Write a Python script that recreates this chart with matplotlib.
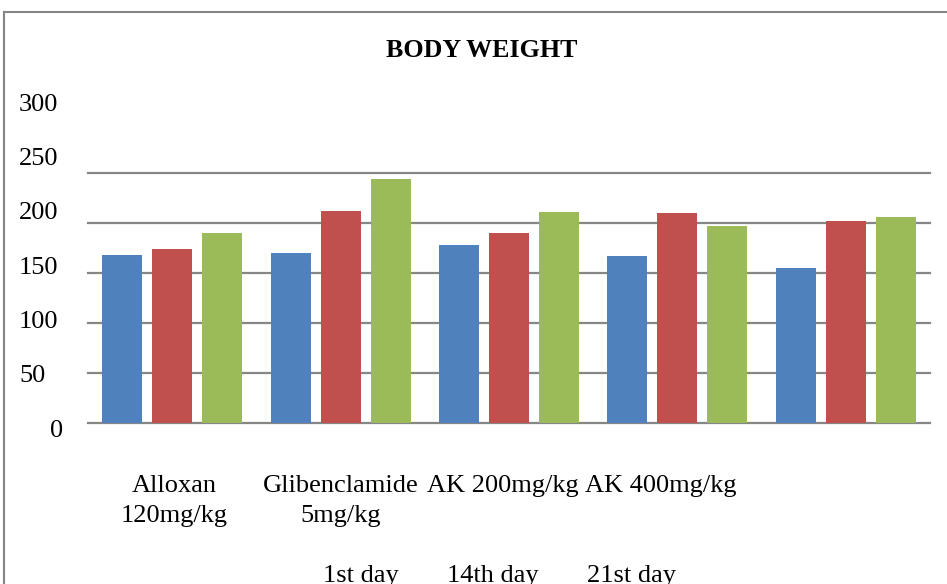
import numpy as np
import matplotlib.pyplot as plt
from matplotlib.lines import Line2D
from matplotlib.transforms import blended_transform_factory

# body weight (g) per treatment group, measured on three days
groups = ['Alloxan\n120mg/kg', 'Glibenclamide\n5mg/kg', 'AK 200mg/kg', 'AK 400mg/kg', '']
days = ['1st day', '14th day', '21st day']
day1 = [168, 170, 178, 167, 155]
day14 = [174, 212, 190, 210, 202]
day21 = [190, 244, 211, 197, 206]
colors = ['#4F81BD', '#C0504D', '#9BBB59']
yvals = [0, 50, 100, 150, 200, 250, 300]

W, H = 947, 584
plt.rcParams['font.family'] = ['Liberation Serif', 'DejaVu Serif']
fig = plt.figure(figsize=(W / 100, H / 100), dpi=100)


def fx(px):
    return px / W


def fy(py):
    return 1 - py / H


# plot area: 0 at y=423.3, 250 at y=173.3
ax = fig.add_axes([fx(88), fy(423.3), fx(930 - 88), (423.3 - 173.3) / H])
x = np.arange(len(groups))
bw = 0.2375
step = 0.297
for k, vals in enumerate([day1, day14, day21]):
    ax.bar(x + (k - 1) * step, vals, width=bw, color=colors[k], zorder=3, label=days[k])
ax.set_xlim(-0.5, len(groups) - 0.5)
ax.set_ylim(0, 250)
ax.set_yticks(range(0, 251, 50))
ax.yaxis.grid(True, color='#868686', linewidth=1.6, zorder=0)
for gl in ax.get_ygridlines():
    gl.set_clip_on(False)
ax.tick_params(left=False, bottom=False, labelleft=False, labelbottom=False)
for s in ax.spines.values():
    s.set_visible(False)
ax.set_axisbelow(True)

# value labels on the left, spaced on their own scale
ax_lab = fig.add_axes([0, fy(436.7), 1, (436.7 - 110.7) / H])
ax_lab.set_ylim(0, 300)
ax_lab.axis('off')
trans = blended_transform_factory(fig.transFigure, ax_lab.transData)
for v in yvals:
    xl = fx(50) if v == 0 else fx(19)
    ax_lab.text(xl, v, str(v), transform=trans, ha='left', va='baseline', fontsize=19)

fig.text(fx(482), fy(56.7), 'BODY WEIGHT', ha='center', va='baseline',
         fontsize=18.7, fontweight='bold')

# category names under the bars
label_x = [174, 341, 503, 661, 846]
for cx, name in zip(label_x, groups):
    for j, line in enumerate(name.split('\n')):
        if line:
            fig.text(fx(cx), fy(491.7 + 30 * j), line, ha='center', va='baseline', fontsize=19)

# series names
for lx, d in zip([322.7, 446.7, 587], days):
    fig.text(fx(lx), fy(581.7), d, ha='left', va='baseline', fontsize=19)

# chart frame
fig.add_artist(Line2D([fx(3.5), fx(3.5)], [0, fy(11.7)], color='#868686', linewidth=1.5))
fig.add_artist(Line2D([fx(3.5), 1], [fy(11.7), fy(11.7)], color='#868686', linewidth=1.5))

fig.savefig('out.png', dpi=100)
